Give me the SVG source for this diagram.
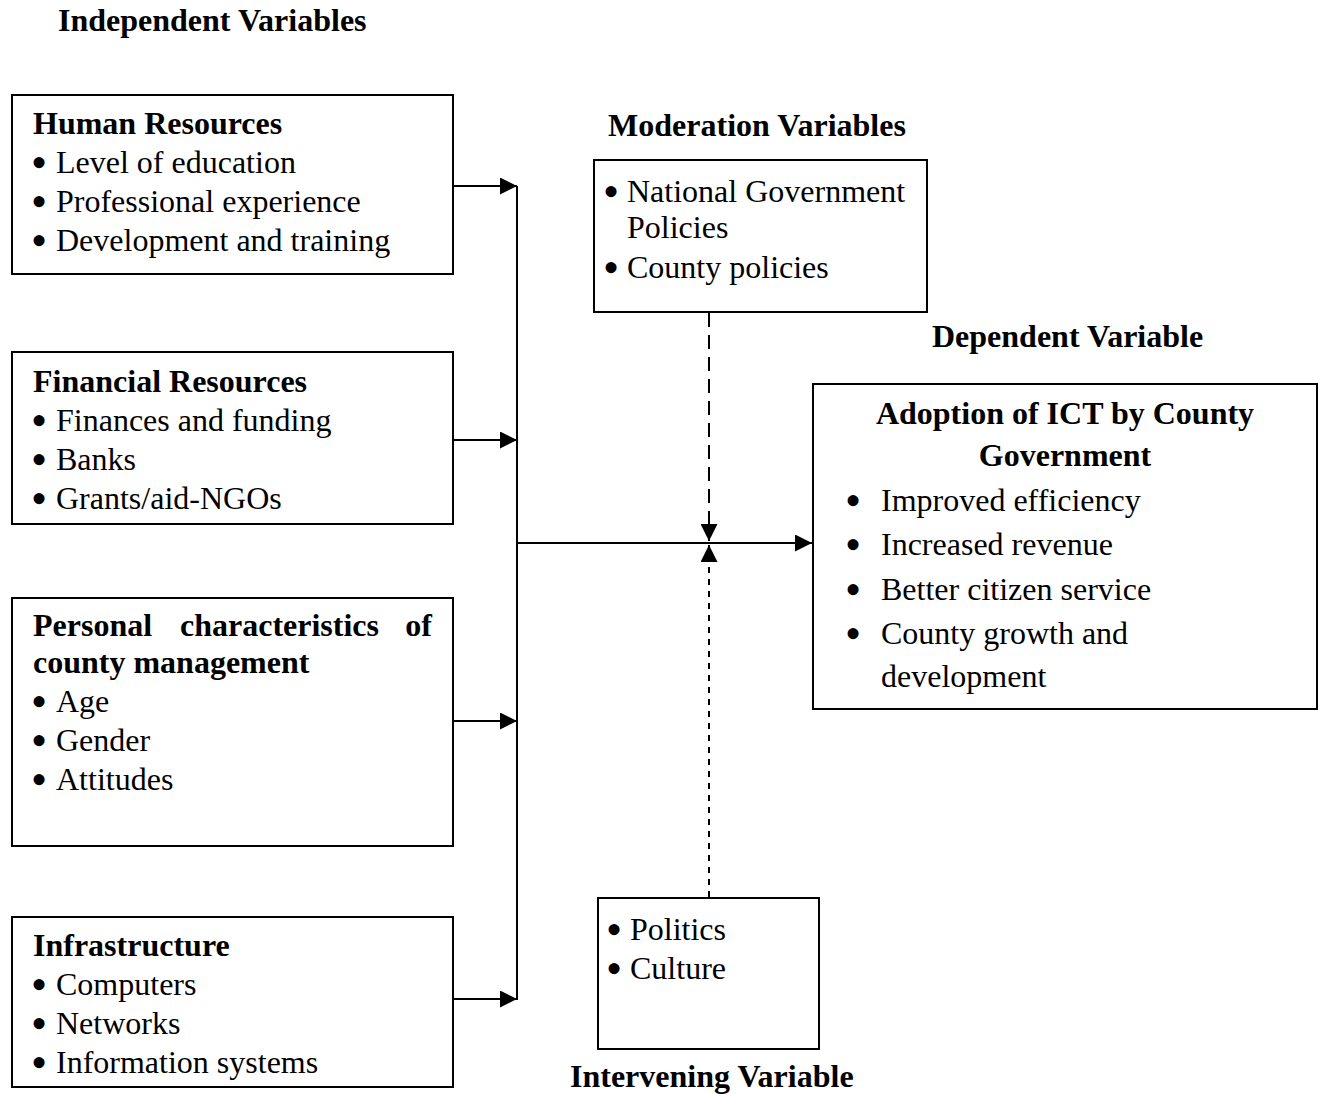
<svg xmlns="http://www.w3.org/2000/svg" width="1318" height="1094" viewBox="0 0 1318 1094">
<defs>
<style>
text{font-family:"Liberation Serif","Times New Roman",serif;font-size:32px;fill:#000}
.b{font-weight:bold}
.bu{font-size:46px}
.box{fill:#fff;stroke:#000;stroke-width:2}
.ln{fill:none;stroke:#000;stroke-width:2}
.dash{fill:none;stroke:#000;stroke-width:2;stroke-dasharray:14,8}
.dot{fill:none;stroke:#000;stroke-width:2;stroke-dasharray:6,6}
</style>
<marker id="ah2" viewBox="0 0 10 10" refX="10" refY="5" markerWidth="17" markerHeight="17" markerUnits="userSpaceOnUse" orient="auto"><path d="M0,0L10,5L0,10Z" fill="#000"/></marker>
</defs>
<rect width="1318" height="1094" fill="#fff"/>
<text class="b" x="58" y="31">Independent Variables</text>
<text class="b" x="757" y="136" text-anchor="middle">Moderation Variables</text>
<text class="b" x="932" y="347">Dependent Variable</text>
<text class="b" x="570" y="1087">Intervening Variable</text>

<g id="connectors">
<line class="ln" x1="517" y1="186" x2="517" y2="1000"/>
<line class="ln" x1="453" y1="186" x2="517" y2="186" marker-end="url(#ah2)"/>
<line class="ln" x1="453" y1="440" x2="517" y2="440" marker-end="url(#ah2)"/>
<line class="ln" x1="453" y1="721" x2="517" y2="721" marker-end="url(#ah2)"/>
<line class="ln" x1="453" y1="999" x2="517" y2="999" marker-end="url(#ah2)"/>
<line class="ln" x1="517" y1="543" x2="812" y2="543" marker-end="url(#ah2)"/>
<line class="dash" x1="709" y1="313" x2="709" y2="541" marker-end="url(#ah2)"/>
<line class="dot" x1="709" y1="897" x2="709" y2="545" marker-end="url(#ah2)"/>
</g>

<g id="human">
<rect class="box" x="12" y="95" width="441" height="179"/>
<text class="b" x="33" y="134">Human Resources</text>
<text class="bu" x="31" y="178">•</text><text x="56" y="173">Level of education</text>
<text class="bu" x="31" y="217">•</text><text x="56" y="212">Professional experience</text>
<text class="bu" x="31" y="256">•</text><text x="56" y="251">Development and training</text>
</g>

<g id="financial">
<rect class="box" x="12" y="352" width="441" height="172"/>
<text class="b" x="33" y="392">Financial Resources</text>
<text class="bu" x="31" y="436">•</text><text x="56" y="431">Finances and funding</text>
<text class="bu" x="31" y="475">•</text><text x="56" y="470">Banks</text>
<text class="bu" x="31" y="514">•</text><text x="56" y="509">Grants/aid-NGOs</text>
</g>

<g id="personal">
<rect class="box" x="12" y="598" width="441" height="248"/>
<text class="b" x="33" y="636">Personal</text>
<text class="b" x="180" y="636">characteristics</text>
<text class="b" x="432" y="636" text-anchor="end">of</text>
<text class="b" x="33" y="673">county management</text>
<text class="bu" x="31" y="717">•</text><text x="56" y="712">Age</text>
<text class="bu" x="31" y="756">•</text><text x="56" y="751">Gender</text>
<text class="bu" x="31" y="795">•</text><text x="56" y="790">Attitudes</text>
</g>

<g id="infrastructure">
<rect class="box" x="12" y="917" width="441" height="170"/>
<text class="b" x="33" y="956">Infrastructure</text>
<text class="bu" x="31" y="1000">•</text><text x="56" y="995">Computers</text>
<text class="bu" x="31" y="1039">•</text><text x="56" y="1034">Networks</text>
<text class="bu" x="31" y="1078">•</text><text x="56" y="1073">Information systems</text>
</g>

<g id="moderation">
<rect class="box" x="594" y="160" width="333" height="152"/>
<text class="bu" x="603" y="207">•</text><text x="627" y="202">National Government</text>
<text x="627" y="238">Policies</text>
<text class="bu" x="603" y="283">•</text><text x="627" y="278">County policies</text>
</g>

<g id="dependent">
<rect class="box" x="813" y="384" width="504" height="325"/>
<text class="b" x="1065" y="424" text-anchor="middle">Adoption of ICT by County</text>
<text class="b" x="1065" y="466" text-anchor="middle">Government</text>
<text class="bu" x="845" y="516">•</text><text x="881" y="511">Improved efficiency</text>
<text class="bu" x="845" y="560">•</text><text x="881" y="555">Increased revenue</text>
<text class="bu" x="845" y="605">•</text><text x="881" y="600">Better citizen service</text>
<text class="bu" x="845" y="649">•</text><text x="881" y="644">County growth and</text>
<text x="881" y="687">development</text>
</g>

<g id="intervening">
<rect class="box" x="598" y="898" width="221" height="151"/>
<text class="bu" x="606" y="945">•</text><text x="630" y="940">Politics</text>
<text class="bu" x="606" y="984">•</text><text x="630" y="979">Culture</text>
</g>
</svg>
